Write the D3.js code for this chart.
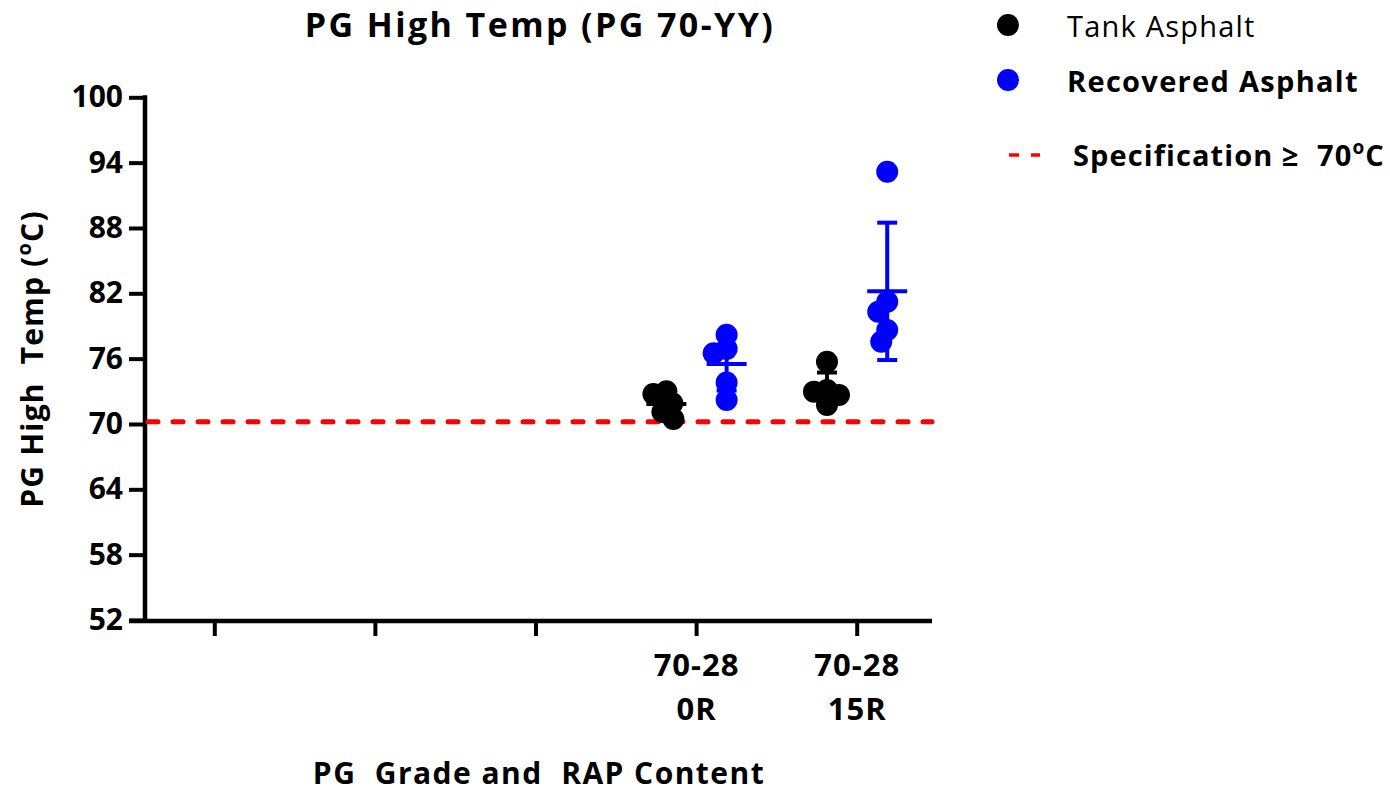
<!DOCTYPE html>
<html>
<head>
<meta charset="utf-8">
<script src="https://cdn.jsdelivr.net/npm/d3@7"></script>
<style>
  body { margin: 0; background: #fff; }
  svg { display: block; }
  text { font-family: "Open Sans", Lato, "DejaVu Sans", sans-serif; white-space: pre; }
</style>
</head>
<body>
<svg id="chart" width="1390" height="794"></svg>
<script>
// ---------------- data ----------------
const categories = ["g1", "g2", "g3", "70-28 0R", "70-28 15R"];
const tickLine1 = ["", "", "", "70-28", "70-28"];
const tickLine2 = ["", "", "", "0R", "15R"];
const yTicks = [52, 58, 64, 70, 76, 82, 88, 94, 100];
const seriesNames = ["Tank Asphalt", "Recovered Asphalt"];
const seriesColors = ["#000000", "#0000ff"];
const tankAsphalt0R = [73.0, 72.75, 71.9, 71.1, 70.45];
const tankAsphalt15R = [75.72, 73.12, 72.97, 72.66, 71.74];
const recoveredAsphalt0R = [78.2, 76.9, 76.5, 73.8, 72.2];
const recoveredAsphalt15R = [93.17, 81.23, 80.31, 78.63, 77.56];
const specificationTemp = 70.2;
const titleText = "PG High Temp (PG 70-YY)";
const xTitleText = "PG  Grade and  RAP Content";

// ---------------- layout ----------------
const svg = d3.select("#chart");
const y = d3.scaleLinear().domain([52, 100]).range([620, 97.3]);
const x = d3.scalePoint().domain(categories).range([134, 937]).padding(0.5);
const axisLeftX = 145;
const xAxisEnd = 932;
const step = x.step();
const seriesOffset = [-0.185 * step, 0.19 * step];
const groups = [
  { cat: "70-28 0R", s: 0, values: tankAsphalt0R },
  { cat: "70-28 0R", s: 1, values: recoveredAsphalt0R },
  { cat: "70-28 15R", s: 0, values: tankAsphalt15R },
  { cat: "70-28 15R", s: 1, values: recoveredAsphalt15R }
];
const R = 11;

// title
svg.append("text").attr("x", 540).attr("y", 36.5).attr("text-anchor", "middle")
  .attr("font-size", 34).attr("font-weight", 700).attr("letter-spacing", 2.4).text(titleText);

// y axis
const yAxis = svg.append("g").attr("transform", `translate(${axisLeftX},0)`)
  .call(d3.axisLeft(y).tickValues(yTicks).tickSize(16).tickSizeOuter(0).tickPadding(6));
yAxis.select(".domain").attr("stroke", "#000").attr("stroke-width", 4.5)
  .attr("d", `M0,${y(100) - 2}V${y(52) + 2}`);
yAxis.selectAll(".tick line").attr("stroke", "#000").attr("stroke-width", 4);
yAxis.selectAll(".tick text").attr("font-size", 30).attr("font-weight", 700)
  .attr("fill", "#000").attr("font-family", "Open Sans");

// x axis
const xAxisY = y(52) + 1;
const xAxis = svg.append("g").attr("transform", `translate(0,${xAxisY})`)
  .call(d3.axisBottom(x).tickSize(15).tickSizeOuter(0).tickFormat(() => ""));
xAxis.select(".domain").attr("stroke", "#000").attr("stroke-width", 4.5)
  .attr("d", `M${axisLeftX - 16},0H${xAxisEnd}`);
xAxis.selectAll(".tick line").attr("stroke", "#000").attr("stroke-width", 4);
categories.forEach((c, i) => {
  svg.append("text").attr("x", x(c) + 0.5).attr("y", xAxisY + 55).attr("text-anchor", "middle")
    .attr("font-size", 31).attr("font-weight", 700).attr("letter-spacing", 1).text(tickLine1[i]);
  svg.append("text").attr("x", x(c) + 0.5).attr("y", xAxisY + 99).attr("text-anchor", "middle")
    .attr("font-size", 31).attr("font-weight", 700).attr("letter-spacing", 1).text(tickLine2[i]);
});

// axis titles
svg.append("text").attr("x", 539).attr("y", 784).attr("text-anchor", "middle")
  .attr("font-size", 30).attr("font-weight", 700).attr("letter-spacing", 1.45).text(xTitleText);
const yt = svg.append("text").attr("transform", "translate(43,359) rotate(-90)")
  .attr("text-anchor", "middle").attr("font-size", 30).attr("font-weight", 700)
  .attr("letter-spacing", 1.2);
yt.append("tspan").text("PG High  Temp (");
yt.append("tspan").attr("font-size", 20).attr("dy", -12).text("o");
yt.append("tspan").attr("dy", 12).text("C)");

// specification line
svg.append("line").attr("x1", axisLeftX + 3).attr("x2", xAxisEnd)
  .attr("y1", y(specificationTemp)).attr("y2", y(specificationTemp))
  .attr("stroke", "#ff0000").attr("stroke-width", 5).attr("stroke-linecap", "round")
  .attr("stroke-dasharray", "10,15");

// swarm placement
function swarm(values, cx, minD) {
  const placed = [];
  values.forEach(v => {
    const py = y(v);
    let off = 0;
    for (let k = 0; k < 400; k++) {
      const cand = k === 0 ? 0 : (k % 2 ? -Math.ceil(k / 2) : k / 2);
      if (placed.every(p => Math.hypot(p.x - (cx + cand), p.y - py) >= minD)) { off = cand; break; }
    }
    placed.push({ x: cx + off, y: py, v });
  });
  return placed;
}

groups.forEach(g => {
  const cx = x(g.cat) + seriesOffset[g.s];
  const pts = swarm(g.values, cx, 13);
  const color = seriesColors[g.s];
  svg.append("g").selectAll("circle").data(pts).join("circle")
    .attr("cx", d => d.x).attr("cy", d => d.y).attr("r", R).attr("fill", color);
  const m = d3.mean(g.values), sd = d3.deviation(g.values);
  const eb = svg.append("g").attr("stroke", color).attr("stroke-width", 4);
  eb.append("line").attr("x1", cx - 20).attr("x2", cx + 20).attr("y1", y(m)).attr("y2", y(m));
  eb.append("line").attr("x1", cx).attr("x2", cx).attr("y1", y(m + sd)).attr("y2", y(m - sd));
  eb.append("line").attr("x1", cx - 10).attr("x2", cx + 10).attr("y1", y(m + sd)).attr("y2", y(m + sd));
  eb.append("line").attr("x1", cx - 10).attr("x2", cx + 10).attr("y1", y(m - sd)).attr("y2", y(m - sd));
});

// legend
const lg = svg.append("g");
lg.append("circle").attr("cx", 1008).attr("cy", 25).attr("r", R).attr("fill", seriesColors[0]);
lg.append("text").attr("x", 1067).attr("y", 37).attr("font-size", 29).attr("font-weight", 400)
  .attr("letter-spacing", 1.2).text(seriesNames[0]);
lg.append("circle").attr("cx", 1008).attr("cy", 80).attr("r", R).attr("fill", seriesColors[1]);
lg.append("text").attr("x", 1067).attr("y", 92).attr("font-size", 29).attr("font-weight", 700)
  .attr("letter-spacing", 1.3).text(seriesNames[1]);
lg.append("line").attr("x1", 1009).attr("x2", 1040).attr("y1", 155).attr("y2", 155)
  .attr("stroke", "#ff0000").attr("stroke-width", 3.5).attr("stroke-dasharray", "10,12");
const st = lg.append("text").attr("x", 1073).attr("y", 166).attr("font-size", 29).attr("font-weight", 700)
  .attr("letter-spacing", 1.1);
st.append("tspan").text("Specification \u2265  70");
st.append("tspan").attr("font-size", 19).attr("dy", -12).text("o");
st.append("tspan").attr("dy", 12).text("C");
</script>
</body>
</html>
